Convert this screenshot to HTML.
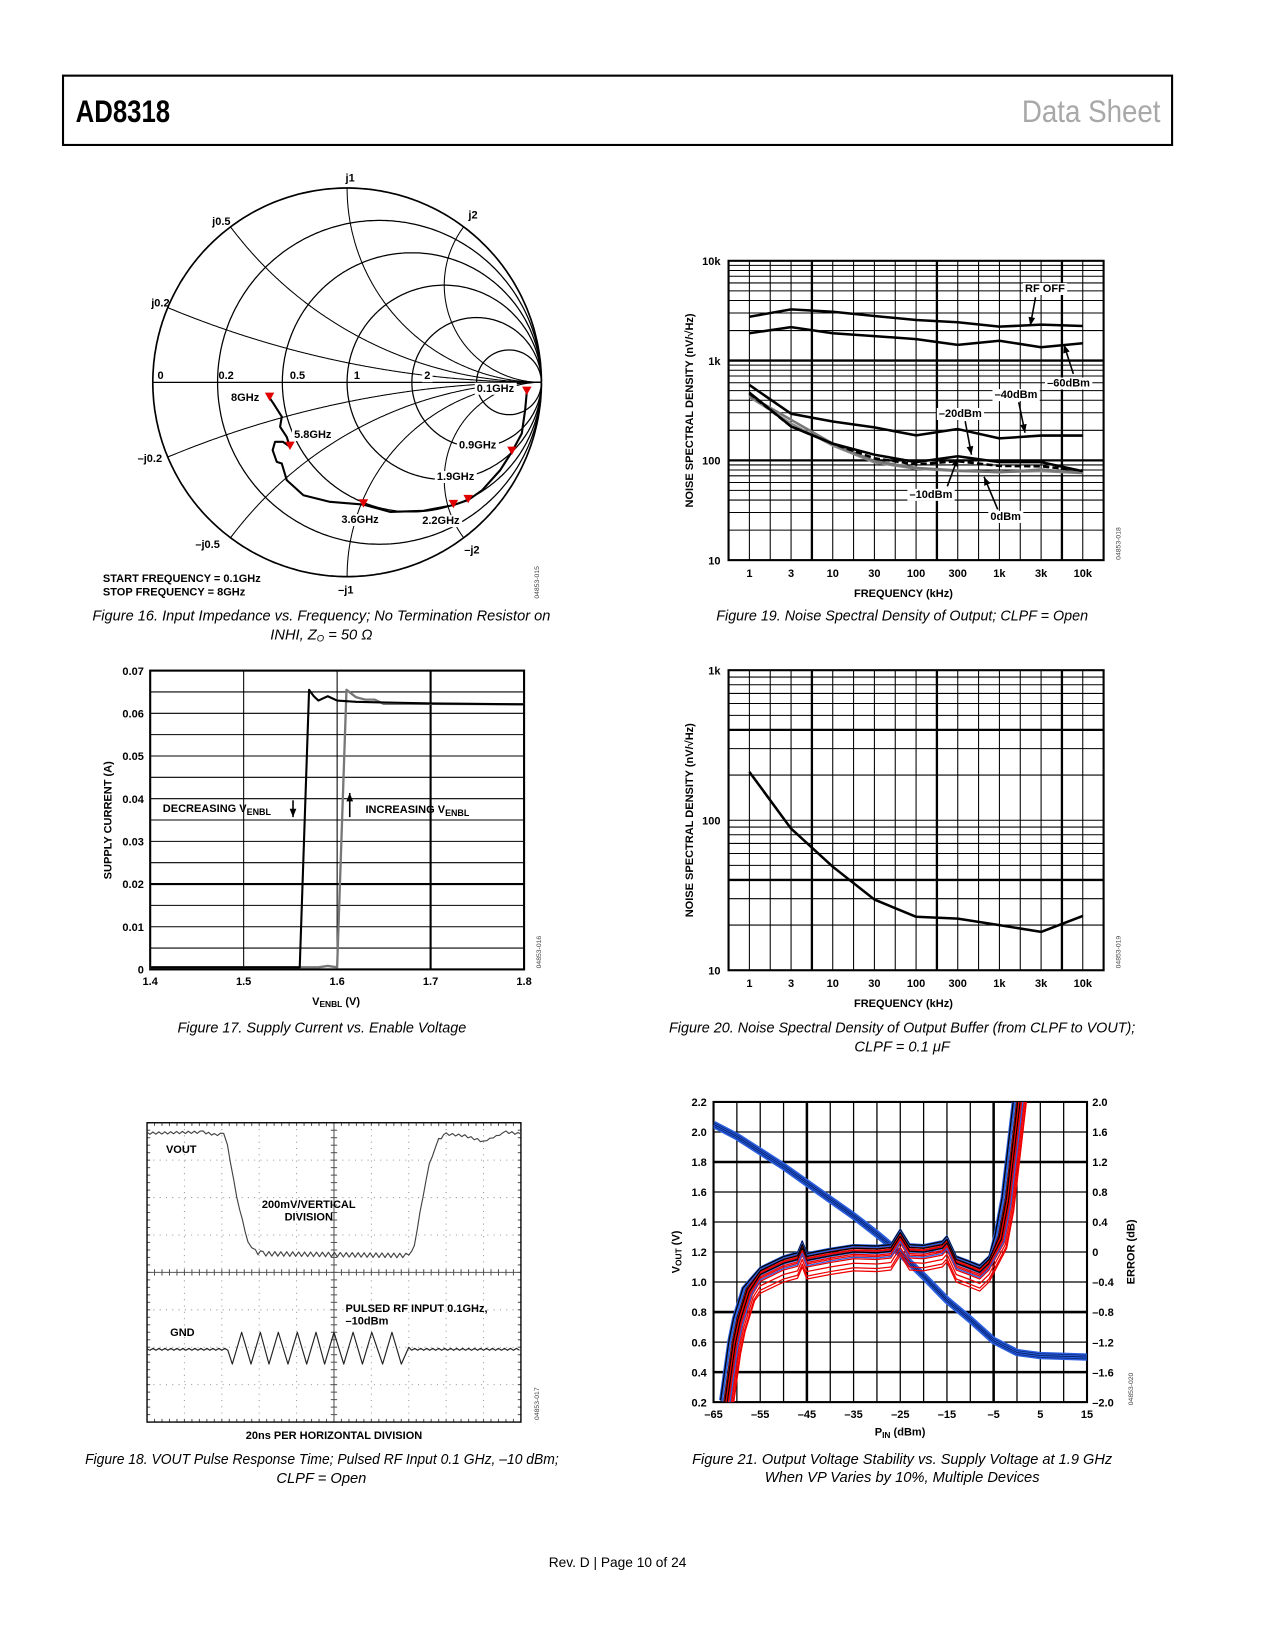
<!DOCTYPE html>
<html><head><meta charset="utf-8"><title>AD8318 Data Sheet page 10</title>
<style>
html,body{margin:0;padding:0;background:#fff;}
svg{display:block;}
.ax{font-family:"Liberation Sans",sans-serif;font-weight:bold;font-size:10.5px;fill:#000;}
.cap{font-family:"Liberation Sans",sans-serif;font-style:italic;font-size:14px;fill:#000;}
.id{font-family:"Liberation Sans",sans-serif;font-size:6.5px;fill:#444;}
</style></head>
<body>
<svg id="page" xmlns="http://www.w3.org/2000/svg" width="1275" height="1650" viewBox="0 0 1214 1571">
<rect x="0" y="0" width="1214" height="1571" fill="#fff"/>
<rect x="60" y="72" width="1056" height="66" fill="none" stroke="#000" stroke-width="2"/>
<text x="72" y="116" font-family="Liberation Sans, sans-serif" font-weight="bold" font-size="30" textLength="90" lengthAdjust="spacingAndGlyphs">AD8318</text>
<text x="973" y="116" font-family="Liberation Sans, sans-serif" font-size="30" fill="#a8a8a8" textLength="132" lengthAdjust="spacingAndGlyphs">Data Sheet</text>

<g id="smith"></g>
<g id="f17"></g>
<g id="f18"></g>
<g id="f19"></g>
<g id="f20"></g>
<g id="f21"></g>

<text class="cap" x="88" y="591" textLength="436" lengthAdjust="spacingAndGlyphs">Figure 16. Input Impedance vs. Frequency; No Termination Resistor on</text>
<text class="cap" x="306" y="609" text-anchor="middle">INHI, Z<tspan font-size="9" dy="2">O</tspan><tspan dy="-2"> = 50 Ω</tspan></text>
<text class="cap" x="169" y="983" textLength="275" lengthAdjust="spacingAndGlyphs">Figure 17. Supply Current vs. Enable Voltage</text>
<text class="cap" x="81" y="1394" textLength="451" lengthAdjust="spacingAndGlyphs">Figure 18. VOUT Pulse Response Time; Pulsed RF Input 0.1 GHz, –10 dBm;</text>
<text class="cap" x="306" y="1412" text-anchor="middle">CLPF = Open</text>
<text class="cap" x="682" y="591" textLength="354" lengthAdjust="spacingAndGlyphs">Figure 19. Noise Spectral Density of Output; CLPF = Open</text>
<text class="cap" x="637" y="983" textLength="444" lengthAdjust="spacingAndGlyphs">Figure 20. Noise Spectral Density of Output Buffer (from CLPF to VOUT);</text>
<text class="cap" x="859" y="1001" text-anchor="middle">CLPF = 0.1 μF</text>
<text class="cap" x="659" y="1394" textLength="400" lengthAdjust="spacingAndGlyphs">Figure 21. Output Voltage Stability vs. Supply Voltage at 1.9 GHz</text>
<text class="cap" x="859" y="1411" text-anchor="middle">When VP Varies by 10%, Multiple Devices</text>
<text x="588" y="1492" text-anchor="middle" font-family="Liberation Sans, sans-serif" font-size="13" textLength="131" lengthAdjust="spacingAndGlyphs">Rev. D | Page 10 of 24</text>

<text class="id" transform="translate(513,570) rotate(-90)">04853-015</text>
<text class="id" transform="translate(515,922) rotate(-90)">04853-016</text>
<text class="id" transform="translate(513,1352) rotate(-90)">04853-017</text>
<text class="id" transform="translate(1067,533) rotate(-90)">04853-018</text>
<text class="id" transform="translate(1067,922) rotate(-90)">04853-019</text>
<text class="id" transform="translate(1079,1338) rotate(-90)">04853-020</text>
</svg>
<script>
// ---------- data ----------
const smithU = [0.925,0.916,0.899,0.848,0.788,0.695,0.623,0.547,0.393,0.221,0.084,-0.088,-0.225,-0.311,-0.336,-0.362,-0.383,-0.371,-0.331,-0.294,-0.311,-0.345,-0.336,-0.379,-0.399];
const smithV = [-0.049,-0.143,-0.263,-0.358,-0.452,-0.555,-0.606,-0.632,-0.661,-0.667,-0.629,-0.615,-0.581,-0.503,-0.418,-0.409,-0.349,-0.306,-0.306,-0.332,-0.281,-0.229,-0.177,-0.109,-0.080];
const smithMarkerIdx = [0,3,6,7,10,19,24];
const smithResist = [0,0.2,0.5,1,2,5];
const smithReact = [0.2,0.5,1,2,-0.2,-0.5,-1,-2];

const f17DecX = [1.4,1.55,1.56,1.57,1.575,1.58,1.585,1.59,1.6,1.62,1.7,1.8];
const f17DecY = [0.0005,0.0005,0.0005,0.0655,0.064,0.063,0.0635,0.064,0.063,0.0627,0.0623,0.0621];
const f17IncX = [1.4,1.58,1.59,1.6,1.61,1.62,1.63,1.64,1.65,1.7,1.8];
const f17IncY = [0.0005,0.0005,0.0008,0.0005,0.0655,0.0638,0.0632,0.0632,0.0622,0.0622,0.0621];
const f17XTicks = [1.4,1.5,1.6,1.7,1.8];
const f17YTicks = [0,0.01,0.02,0.03,0.04,0.05,0.06,0.07];

const voutT = [0,1.5,1.8,2.05,2.15,2.4,2.7,2.9,3.1,7.0,7.15,7.3,7.55,7.8,8.0,8.5,9.0,9.6,10];
const voutD = [0.28,0.25,0.32,0.3,0.6,2.0,3.2,3.45,3.5,3.55,3.3,2.4,1.1,0.45,0.3,0.35,0.5,0.25,0.3];
const gndPeakT = [2.53,3.03,3.51,4.02,4.52,5.0,5.51,6.01,6.55];
const gndBase = 6.05;

const freqLabels = ['1','3','10','30','100','300','1k','3k','10k'];
const nsdRfOff = [2750,3260,3090,2800,2550,2420,2190,2290,2220];
const nsd60 = [1880,2160,1880,1760,1640,1440,1580,1360,1490];
const nsd40 = [570,293,245,214,178,206,166,177,177];
const nsd20 = [478,219,147,114,96,110,96,96,78];
const nsd10 = [470,219,147,105,91,98,88,87,79];
const nsd0 = [444,255,147,98,84,79,76,81,75];
const nsd0b = [430,235,140,95,82,78,76,78,74];
const nsdBuf = [210,88,49,29.6,22.7,22.1,20,18,23];

const pinX = [-65,-60,-55,-50,-45,-40,-35,-30,-25,-20,-15,-10,-5,0,5,10,15];
const voutV = [2.05,1.97,1.87,1.77,1.66,1.55,1.44,1.32,1.19,1.04,0.88,0.75,0.61,0.53,0.51,0.505,0.50];
const errX = [-62.8,-61,-60,-58,-55,-50,-47,-46,-45,-40,-35,-30,-27,-25,-23,-20,-16,-15,-13,-10,-8,-6,-4,-2.5,-1,0.5];
const errY = [-2.0,-1.2,-0.9,-0.5,-0.25,-0.1,-0.05,0.1,-0.06,0,0.05,0.04,0.06,0.26,0.06,0.05,0.1,0.17,-0.1,-0.17,-0.22,-0.1,0.2,0.7,1.5,2.3];
const devOffset = [0.05,0.03,0.02,0.0,-0.02,-0.04,0.04,0.01,-0.03,-0.06,-0.1,-0.14,-0.2,-0.26,0.02,-0.05,-0.08,0.0,-0.12,-0.3];
const devShift = [-0.9,-0.5,0,0.3,0.6,0.9,-0.7,0.1,0.4,0.8,1.1,1.3,1.5,1.7,-0.3,0.7,0.9,0.2,1.2,1.8];
const devColor = ['#2b5fe0','#2b5fe0','#000','#e00','#e00','#2b5fe0','#000','#e00','#e00','#2b5fe0','#e00','#e00','#e00','#e00','#2b5fe0','#000','#e00','#000','#2b5fe0','#e00'];
const f21XTicks = [-65,-55,-45,-35,-25,-15,-5,5,15];
const f21YTicks = [0.2,0.4,0.6,0.8,1.0,1.2,1.4,1.6,1.8,2.0,2.2];
const f21RTicks = ['–2.0','–1.6','–1.2','–0.8','–0.4','0','0.4','0.8','1.2','1.6','2.0'];

// ---------- helpers ----------
const NS='http://www.w3.org/2000/svg';
function mk(tag,attrs,parent){const e=document.createElementNS(NS,tag);for(const k in attrs)e.setAttribute(k,attrs[k]);parent.appendChild(e);return e;}
function txt(parent,x,y,s,anchor,cls,name){const t=mk('text',{x:x,y:y,'text-anchor':anchor||'start','class':cls||'ax'},parent);t.textContent=s;


return t;}
function line(parent,x1,y1,x2,y2,w,col,name){const l=mk('line',{x1:x1,y1:y1,x2:x2,y2:y2,stroke:col||'#000','stroke-width':w||1},parent);


return l;}
function poly(parent,pts,w,col,name,extra){const p=mk('polyline',Object.assign({points:pts.map(p=>p[0].toFixed(1)+','+p[1].toFixed(1)).join(' '),fill:'none',stroke:col,'stroke-width':w,'stroke-linejoin':'round'},extra||{}),parent);


return p;}
function arrow(parent,x1,y1,x2,y2,name){line(parent,x1,y1,x2,y2,1.5,'#000',name);
const a=Math.atan2(y2-y1,x2-x1),L=8,W=3.2;
const pts=[[x2,y2],[x2-L*Math.cos(a)+W*Math.sin(a),y2-L*Math.sin(a)-W*Math.cos(a)],[x2-L*Math.cos(a)-W*Math.sin(a),y2-L*Math.sin(a)+W*Math.cos(a)]];
const h=mk('polygon',{points:pts.map(p=>p.join(',')).join(' '),fill:'#000'},parent);

}
function boxLabel(parent,x,y,s,anchor,name){const t=txt(parent,x,y,s,anchor,'ax',name);const b=t.getBBox();
const r=mk('rect',{x:b.x-2,y:b.y,width:b.width+4,height:b.height,fill:'#fff'},parent);


parent.insertBefore(r,t);}

// ---------- Smith chart ----------
(function(){
const g=document.getElementById('smith');const cx=330.5,cy=364,R=185;
const P=(u,v)=>[cx+R*u,cy-R*v];
function gam(r,x){const dr=r+1,den=dr*dr+x*x;return [((r*r+x*x)-1)/den,(2*x)/den];}
smithResist.forEach(r=>{const pts=[];for(let i=0;i<=400;i++){const t=-Math.PI/2+0.0005+(Math.PI-0.001)*i/400;const x=Math.tan(t);const q=gam(r,x);pts.push(P(q[0],q[1]));}
poly(g,pts,r===0?1.6:1.2,'#000','resistance-circle');});
smithReact.forEach(x=>{const pts=[];for(let i=0;i<=300;i++){const t=(Math.PI/2-0.0005)*i/300;const r=Math.tan(t);const q=gam(r,x);pts.push(P(q[0],q[1]));}
poly(g,pts,1,'#000','reactance-arc');});
line(g,cx-R,cy,cx+R,cy,1.2,'#000','real-axis');
const tp=smithU.map((u,i)=>P(u,smithV[i]));
poly(g,tp,2,'#000','impedance-trace');
smithMarkerIdx.forEach(i=>{const p=tp[i];const m=mk('polygon',{points:`${p[0]-4.5},${p[1]-5} ${p[0]+4.5},${p[1]-5} ${p[0]},${p[1]+3}`,fill:'#e00000'},g);

});
[['0',150,361],['0.2',208,361],['0.5',276,361],['1',337,361]].forEach(a=>txt(g,a[1],a[2],a[0],'start','ax','resistance-label'));
boxLabel(g,404,361,'2','start','resistance-label-2');
[['j1',329,173],['j0.5',202,214],['j2',446,208],['j0.2',144,292],['–j0.2',131,440],['–j0.5',186,522],['–j2',442,527],['–j1',322,565]].forEach(a=>txt(g,a[1],a[2],a[0],'start','ax','reactance-label'));
boxLabel(g,454,373,'0.1GHz','start','label-0.1ghz');
boxLabel(g,437,427,'0.9GHz','start','label-0.9ghz');
boxLabel(g,416,457,'1.9GHz','start','label-1.9ghz');
boxLabel(g,402,499,'2.2GHz','start','label-2.2ghz');
boxLabel(g,325,498,'3.6GHz','start','label-3.6ghz');
boxLabel(g,280,417,'5.8GHz','start','label-5.8ghz');
txt(g,220,382,'8GHz','start','ax','label-8ghz');
txt(g,98,554,'START FREQUENCY = 0.1GHz','start','ax','start-frequency-note');
txt(g,98,567,'STOP FREQUENCY = 8GHz','start','ax','stop-frequency-note');
})();

// ---------- Fig 17 ----------
(function(){
const g=document.getElementById('f17');const L=143,Rr=499,T=638.5,B=923;
const X=v=>L+(v-1.4)/0.4*(Rr-L),Y=v=>B-v/0.07*(B-T);
for(let k=1;k<14;k++){const v=k*0.005;line(g,L,Y(v),Rr,Y(v),Math.abs(v-0.02)<1e-9?2:1);}
[1.5,1.6,1.7].forEach(v=>line(g,X(v),T,X(v),B,v===1.7?2:1));
const fr=mk('rect',{x:L,y:T,width:Rr-L,height:B-T,fill:'none',stroke:'#000','stroke-width':2},g);


poly(g,f17IncX.map((x,i)=>[X(x),Y(f17IncY[i])]),2.2,'#777','increasing-venbl-curve');
poly(g,f17DecX.map((x,i)=>[X(x),Y(f17DecY[i])]),2,'#000','decreasing-venbl-curve');
f17XTicks.forEach(v=>txt(g,X(v),938,v.toFixed(1),'middle','ax','x-tick-label'));
f17YTicks.forEach(v=>txt(g,137,Y(v)+4,v===0?'0':v.toFixed(2),'end','ax','y-tick-label'));
const yt=txt(g,0,0,'SUPPLY CURRENT (A)','middle','ax','y-axis-title');yt.setAttribute('transform','translate(106,781) rotate(-90)');
const xt=txt(g,320,957,'','middle','ax','x-axis-title');xt.innerHTML='V<tspan font-size="8" dy="2">ENBL</tspan><tspan dy="-2"> (V)</tspan>';
const d=txt(g,155,773,'','start','ax','decreasing-label');d.innerHTML='DECREASING V<tspan font-size="8.5" dy="3">ENBL</tspan>';
arrow(g,279,762,279,778,'decreasing-arrow');
const inc=txt(g,348,774,'','start','ax','increasing-label');inc.innerHTML='INCREASING V<tspan font-size="8.5" dy="3">ENBL</tspan>';
arrow(g,333,778,333,755,'increasing-arrow');
})();

// ---------- Fig 18 scope ----------
(function(){
const g=document.getElementById('f18');const L=140,T=1069,W=356,H=285;const dx=W/10,dy=H/8;
const X=t=>L+t*dx,Y=d=>T+d*dy;
for(let i=1;i<10;i++){if(i!==5)line(g,X(i),T,X(i),T+H,1,'#999','vertical-division').setAttribute('stroke-dasharray','1 5');}
for(let j=1;j<8;j++){if(j!==4)line(g,L,Y(j),L+W,Y(j),1,'#999','horizontal-division').setAttribute('stroke-dasharray','1 5');}
line(g,X(5),T,X(5),T+H,1,'#555','center-vertical-axis');line(g,L,Y(4),L+W,Y(4),1,'#555','center-horizontal-axis');
for(let i=0;i<=50;i++){const x=L+i*dx/5;line(g,x,Y(4)-3,x,Y(4)+3,1,'#555','tick');line(g,x,T,x,T+3,1,'#555','tick');line(g,x,T+H,x,T+H-3,1,'#555','tick');}
for(let j=0;j<=40;j++){const y=T+j*dy/5;line(g,X(5)-3,y,X(5)+3,y,1,'#555','tick');line(g,L,y,L+3,y,1,'#555','tick');line(g,L+W,y,L+W-3,y,1,'#555','tick');}
const fr=mk('rect',{x:L,y:T,width:W,height:H,fill:'none',stroke:'#000','stroke-width':1.3},g);


const vp=[];for(let i=0;i<voutT.length-1;i++){const t0=voutT[i],t1=voutT[i+1],n=Math.max(1,Math.round((t1-t0)/0.08));for(let k=0;k<n;k++){const t=t0+(t1-t0)*k/n,d=voutD[i]+(voutD[i+1]-voutD[i])*k/n;const flat=Math.abs(voutD[i+1]-voutD[i])<0.2;const amp=flat?(d>3?0.06:0.03):0.015;vp.push([X(t),Y(d+(k%2?amp:-amp))]);}}
vp.push([X(10),Y(voutD[voutD.length-1])]);
poly(g,vp,1.1,'#444','vout-trace');
const gp=[[X(0),Y(gndBase)]];
for(let t=0.08;t<2.2;t+=0.08)gp.push([X(t),Y(gndBase+((Math.round(t/0.08))%2?0.03:-0.02))]);
gndPeakT.forEach(p=>{gp.push([X(p-0.25),Y(gndBase+0.4)]);gp.push([X(p),Y(gndBase-0.45)]);});
gp.push([X(6.8),Y(gndBase+0.4)]);gp.push([X(7.0),Y(gndBase-0.05)]);
for(let t=7.08;t<=10;t+=0.08)gp.push([X(t),Y(gndBase+((Math.round(t/0.08))%2?0.03:-0.02))]);
poly(g,gp,1.1,'#222','gnd-trace');
txt(g,158,1098,'VOUT','start','ax','vout-label');
txt(g,294,1150,'200mV/VERTICAL','middle','ax','vertical-scale-label');
txt(g,294,1162,'DIVISION','middle','ax','vertical-scale-label-2');
txt(g,162,1272,'GND','start','ax','gnd-label');
txt(g,329,1249,'PULSED RF INPUT 0.1GHz,','start','ax','pulsed-rf-label');
txt(g,329,1261,'–10dBm','start','ax','pulsed-rf-label-2');
txt(g,318,1370,'20ns PER HORIZONTAL DIVISION','middle','ax','horizontal-scale-label');
})();

function logChart(g,T,B,decLo,decHi,thickVals){
const L=693.7,Rr=1050.8;
const X=i=>L+(i+0.5)*(Rr-L)/9;
const Y=v=>B-(Math.log10(v)-decLo)/(decHi-decLo)*(B-T);
for(let d=decLo;d<decHi;d++)for(let k=1;k<10;k++){const v=k*Math.pow(10,d);const th=thickVals.some(t=>Math.abs(t-v)<1e-6);line(g,L,Y(v),Rr,Y(v),th?2.2:1);}
for(let h=0;h<17;h++){const i=h/2;const th=(h===3||h===9||h===15);line(g,X(i),T,X(i),B,th?2.2:1);}
const fr=mk('rect',{x:L,y:T,width:Rr-L,height:B-T,fill:'none',stroke:'#000','stroke-width':2},g);


freqLabels.forEach((s,i)=>txt(g,X(i),B+16,s,'middle','ax','x-tick-label'));
txt(g,(L+Rr)/2-12,B+35,'FREQUENCY (kHz)','middle','ax','x-axis-title');
const yt=txt(g,0,0,'NOISE SPECTRAL DENSITY (nV/√Hz)','middle','ax','y-axis-title');yt.setAttribute('transform',`translate(660,${(T+B)/2}) rotate(-90)`);
return {X,Y};}

(function(){
const g=document.getElementById('f19');const T=248.3,B=533.3;
const a=logChart(g,T,B,1,4,[100,1000]);
[[10,'10'],[100,'100'],[1000,'1k'],[10000,'10k']].forEach(p=>txt(g,686,a.Y(p[0])+4,p[1],'end','ax','y-tick-label'));
const pts=arr=>arr.map((v,i)=>[a.X(i),a.Y(v)]);
poly(g,pts(nsd0b),2,'#888','noise-0dbm-b');
poly(g,pts(nsd0),2.4,'#777','noise-0dbm');
poly(g,pts(nsd10),2.4,'#000','noise-minus10dbm',{'stroke-dasharray':'6 3'});
poly(g,pts(nsd20),2.4,'#000','noise-minus20dbm');
poly(g,pts(nsd40),2.4,'#000','noise-minus40dbm');
poly(g,pts(nsd60),2.4,'#000','noise-minus60dbm');
poly(g,pts(nsdRfOff),2.4,'#000','noise-rf-off');
boxLabel(g,976,278,'RF OFF','start','rf-off-label');arrow(g,986,283,981,310,'rf-off-arrow');
boxLabel(g,997,368,'–60dBm','start','minus60-label');arrow(g,1022,356,1013,328,'minus60-arrow');
boxLabel(g,947,379,'–40dBm','start','minus40-label');arrow(g,970,383,976,412,'minus40-arrow');
boxLabel(g,894,397,'–20dBm','start','minus20-label');arrow(g,919,401,925,433,'minus20-arrow');
boxLabel(g,866,474,'–10dBm','start','minus10-label');arrow(g,902,463,912,436,'minus10-arrow');
boxLabel(g,943,495,'0dBm','start','zerodbm-label');arrow(g,950,485,937,454,'zerodbm-arrow');
})();

(function(){
const g=document.getElementById('f20');const T=638.1,B=923.8;
const a=logChart(g,T,B,1,3,[40,400]);
[[10,'10'],[100,'100'],[1000,'1k']].forEach(p=>txt(g,686,a.Y(p[0])+4,p[1],'end','ax','y-tick-label'));
poly(g,nsdBuf.map((v,i)=>[a.X(i),a.Y(v)]),2.4,'#000','buffer-noise-curve');
})();

(function(){
const g=document.getElementById('f21');const L=679.4,Rr=1035,T=1049.2,B=1335;
const X=v=>L+(v+65)/80*(Rr-L),Y=v=>B-(v-0.2)/2*(B-T),YE=e=>B-(e+2)/4*(B-T);
f21YTicks.forEach(v=>{const th=[0.4,0.8,1.8].some(t=>Math.abs(t-v)<1e-6);line(g,L,Y(v),Rr,Y(v),th?2.4:1.2);});
for(let v=-60;v<15;v+=5){const th=(v===-45||v===-5);line(g,X(v),T,X(v),B,th?2.4:1.2);}
const fr=mk('rect',{x:L,y:T,width:Rr-L,height:B-T,fill:'none',stroke:'#000','stroke-width':2},g);


const cp=mk('clipPath',{id:'c21'},g);const cr=mk('rect',{x:L,y:T,width:Rr-L,height:B-T},cp);


const pg=mk('g',{'clip-path':'url(#c21)'},g);


const vpts=pinX.map((x,i)=>[X(x),Y(voutV[i])]);
poly(pg,vpts,7,'#2b5fe0','vout-curve-band');
poly(pg,vpts.map(p=>[p[0],p[1]-1.8]),0.8,'#0a2a80','vout-curve-1');
poly(pg,vpts.map(p=>[p[0],p[1]+1.8]),0.8,'#0a2a80','vout-curve-2');
poly(pg,vpts,0.8,'#001a60','vout-curve-3');
devOffset.forEach((off,d)=>{const pts=errX.map((x,i)=>{let e=errY[i];const isRise=x>-6||x<-57;return [X(x+(isRise?devShift[d]:0)),YE(e+(isRise?off*0.5:off))];});
poly(pg,pts,1.2,devColor[d],'error-curve-device');});
f21XTicks.forEach(v=>txt(g,X(v),1350,v<0?'–'+Math.abs(v):String(v),'middle','ax','x-tick-label'));
f21YTicks.forEach(v=>txt(g,673,Y(v)+4,v.toFixed(1),'end','ax','left-y-tick-label'));
f21RTicks.forEach((s,i)=>txt(g,1040,YE(-2+i*0.4)+4,s,'start','ax','right-y-tick-label'));
const xt=txt(g,857,1367,'','middle','ax','x-axis-title');xt.innerHTML='P<tspan font-size="8" dy="2">IN</tspan><tspan dy="-2"> (dBm)</tspan>';
const yt=txt(g,0,0,'','middle','ax','left-y-axis-title');yt.innerHTML='V<tspan font-size="8" dy="2">OUT</tspan><tspan dy="-2"> (V)</tspan>';yt.setAttribute('transform','translate(647,1192) rotate(-90)');
const rt=txt(g,0,0,'ERROR (dB)','middle','ax','right-y-axis-title');rt.setAttribute('transform','translate(1080,1192) rotate(-90)');
})();
</script>
</body></html>
